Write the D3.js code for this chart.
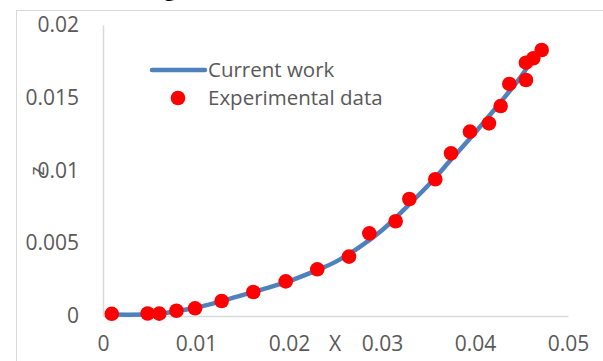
<!DOCTYPE html>
<html>
<head>
<meta charset="utf-8">
<script src="https://cdn.jsdelivr.net/npm/d3@7"></script>
<style>
  html, body { margin: 0; padding: 0; background: #fff; }
  svg { display: block; }
  text { font-family: "Open Sans", "Liberation Sans", sans-serif; fill: #595959; }
</style>
</head>
<body>
<svg id="chart" width="603" height="361"></svg>
<script>
// Experimental measurements
const expX = [0.00094, 0.0048, 0.00605, 0.0079, 0.0099, 0.01276, 0.01616, 0.01965,
              0.02304, 0.02645, 0.02864, 0.03147, 0.03294, 0.03573, 0.03742, 0.03946,
              0.0415, 0.04276, 0.04369, 0.04548, 0.04548, 0.04627, 0.04717];
const expZ = [0.00015, 0.00017, 0.00016, 0.00036, 0.00053, 0.00103, 0.00165, 0.00238,
              0.00321, 0.00408, 0.00568, 0.00651, 0.00804, 0.0094, 0.01118, 0.01267,
              0.01324, 0.01443, 0.01595, 0.01622, 0.01741, 0.01771, 0.01828];

// Model curve (current work)
const curX = [0.001, 0.005, 0.0075, 0.01, 0.0125, 0.015, 0.0175, 0.02, 0.0225, 0.025,
              0.0275, 0.03, 0.0325, 0.035, 0.0375, 0.04, 0.0425, 0.045, 0.0458];
const curZ = [0.0001, 0.00012, 0.00028, 0.00058, 0.00098, 0.00143, 0.0019, 0.0024, 0.00302, 0.00372,
              0.0047, 0.0059, 0.0074, 0.0090, 0.0108, 0.0126, 0.0145, 0.0165, 0.0173];

const xTicks = [0, 0.01, 0.02, 0.03, 0.04, 0.05];
const yTicks = [0, 0.005, 0.01, 0.015, 0.02];
const seriesNames = ["Current work", "Experimental data"];

const svg = d3.select("#chart");
const x = d3.scaleLinear().domain([0, 0.05]).range([103, 568]);
const y = d3.scaleLinear().domain([0, 0.02]).range([316, 25]);

// chart area frame
svg.append("rect").attr("x", 16.5).attr("y", 10.5).attr("width", 620).attr("height", 400)
  .attr("fill", "none").attr("stroke", "#d9d9d9").attr("stroke-width", 1);

// title (runs off the top edge)
svg.append("text").attr("x", 170).attr("y", -5).attr("text-anchor", "middle")
  .style("font-size", "24px").style("fill", "#000").text("g");

// y axis
const yAxis = svg.append("g").attr("transform", `translate(${x(0)},0)`)
  .call(d3.axisLeft(y).tickValues(yTicks).tickSize(0).tickPadding(24)
    .tickFormat(d => d === 0 ? "0" : String(+d.toFixed(3))));
yAxis.select(".domain").attr("stroke", "#d9d9d9").attr("stroke-width", 1.5);
yAxis.selectAll("text").style("font-size", "21px").style("fill", "#595959").attr("font-family", null);

// x axis
const xAxis = svg.append("g").attr("transform", `translate(0,${y(0)})`)
  .call(d3.axisBottom(x).tickValues(xTicks).tickSize(0).tickPadding(20)
    .tickFormat(d => d === 0 ? "0" : String(+d.toFixed(2))));
xAxis.select(".domain").attr("stroke", "#d9d9d9").attr("stroke-width", 1.5);
xAxis.selectAll("text").style("font-size", "21px").style("fill", "#595959").attr("font-family", null);

// axis titles
svg.append("text").attr("x", 335).attr("y", 351).attr("text-anchor", "middle")
  .style("font-size", "21px").text("X");
svg.append("text").attr("transform", "translate(44,171) rotate(-90)").attr("text-anchor", "middle")
  .style("font-size", "20px").text("z");

// model curve
const line = d3.line().x(d => x(d[0])).y(d => y(d[1])).curve(d3.curveCatmullRom.alpha(0.5));
svg.append("path").datum(curX.map((v, i) => [v, curZ[i]]))
  .attr("d", line).attr("fill", "none").attr("stroke", "#4f81bd")
  .attr("stroke-width", 4.5).attr("stroke-linecap", "round");

// experimental points
svg.append("g").selectAll("circle").data(expX.map((v, i) => [v, expZ[i]])).join("circle")
  .attr("cx", d => x(d[0])).attr("cy", d => y(d[1])).attr("r", 7.3).attr("fill", "#ff0000");

// legend
const leg = svg.append("g");
leg.append("line").attr("x1", 152).attr("x2", 205).attr("y1", 70).attr("y2", 70)
  .attr("stroke", "#4f81bd").attr("stroke-width", 4.5).attr("stroke-linecap", "round");
leg.append("circle").attr("cx", 178).attr("cy", 98).attr("r", 7.3).attr("fill", "#ff0000");
leg.selectAll("text").data(seriesNames).join("text")
  .attr("x", 208).attr("y", (d, i) => 70 + i * 28).attr("dy", "0.35em")
  .style("font-size", "20.5px").text(d => d);
</script>
</body>
</html>
